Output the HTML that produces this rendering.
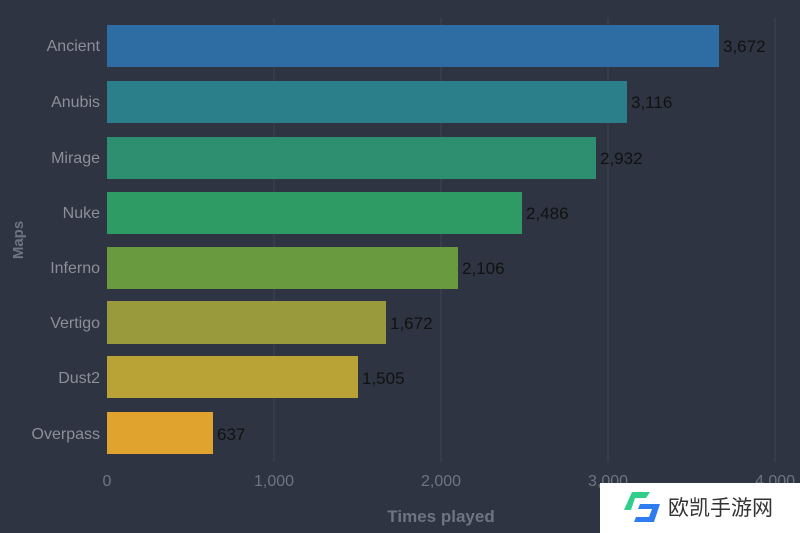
<!DOCTYPE html><html><head><meta charset="utf-8"><style>body{margin:0;background:#2e3441}svg{display:block}text{font-family:"Liberation Sans","Noto Sans CJK SC",sans-serif}</style></head><body>
<svg width="800" height="533" viewBox="0 0 800 533">
<rect width="800" height="533" fill="#2e3441"/>
<g stroke="#3d4452" stroke-width="1">
<line x1="274" y1="18" x2="274" y2="462"/><line x1="441" y1="18" x2="441" y2="462"/><line x1="608" y1="18" x2="608" y2="462"/><line x1="775" y1="18" x2="775" y2="462"/></g>
<g font-size="16" fill="#8a8f99" text-anchor="end">
<text x="100" y="51">Ancient</text><text x="100" y="107">Anubis</text><text x="100" y="163">Mirage</text><text x="100" y="218">Nuke</text><text x="100" y="273">Inferno</text><text x="100" y="328">Vertigo</text><text x="100" y="383">Dust2</text><text x="100" y="439">Overpass</text></g>
<rect x="107" y="25" width="612" height="42" fill="#2e6da4"/>
<rect x="107" y="81" width="520" height="42" fill="#2a7f8a"/>
<rect x="107" y="137" width="489" height="42" fill="#2d8f70"/>
<rect x="107" y="192" width="415" height="42" fill="#2e9b65"/>
<rect x="107" y="247" width="351" height="42" fill="#6a9a40"/>
<rect x="107" y="301" width="279" height="43" fill="#999a3c"/>
<rect x="107" y="356" width="251" height="42" fill="#b9a236"/>
<rect x="107" y="412" width="106" height="42" fill="#e0a42e"/>
<g font-size="17" fill="#111">
<text x="723" y="52">3,672</text><text x="631" y="108">3,116</text><text x="600" y="164">2,932</text><text x="526" y="219">2,486</text><text x="462" y="274">2,106</text><text x="390" y="329">1,672</text><text x="362" y="384">1,505</text><text x="217" y="440">637</text></g>
<g font-size="16" fill="#6e7480" text-anchor="middle">
<text x="107" y="486">0</text><text x="274" y="486">1,000</text><text x="441" y="486">2,000</text><text x="608" y="486">3,000</text><text x="775" y="486">4,000</text></g>
<text x="441" y="522" font-size="17" font-weight="bold" fill="#6e7480" text-anchor="middle">Times played</text>
<text transform="translate(23,240) rotate(-90)" font-size="15" font-weight="bold" fill="#6e7480" text-anchor="middle">Maps</text>
<rect x="600" y="483" width="200" height="50" fill="#fff"/>
<path d="M632 492h18l-4 6h-11l-4 12h-7z" fill="#2ecf8a"/>
<path d="M640 504h20l-6 18h-20l2-5h13l3-8h-14z" fill="#2d7df0"/>
<text x="668" y="515" font-size="21" fill="#333">欧凯手游网</text>
</svg></body></html>
